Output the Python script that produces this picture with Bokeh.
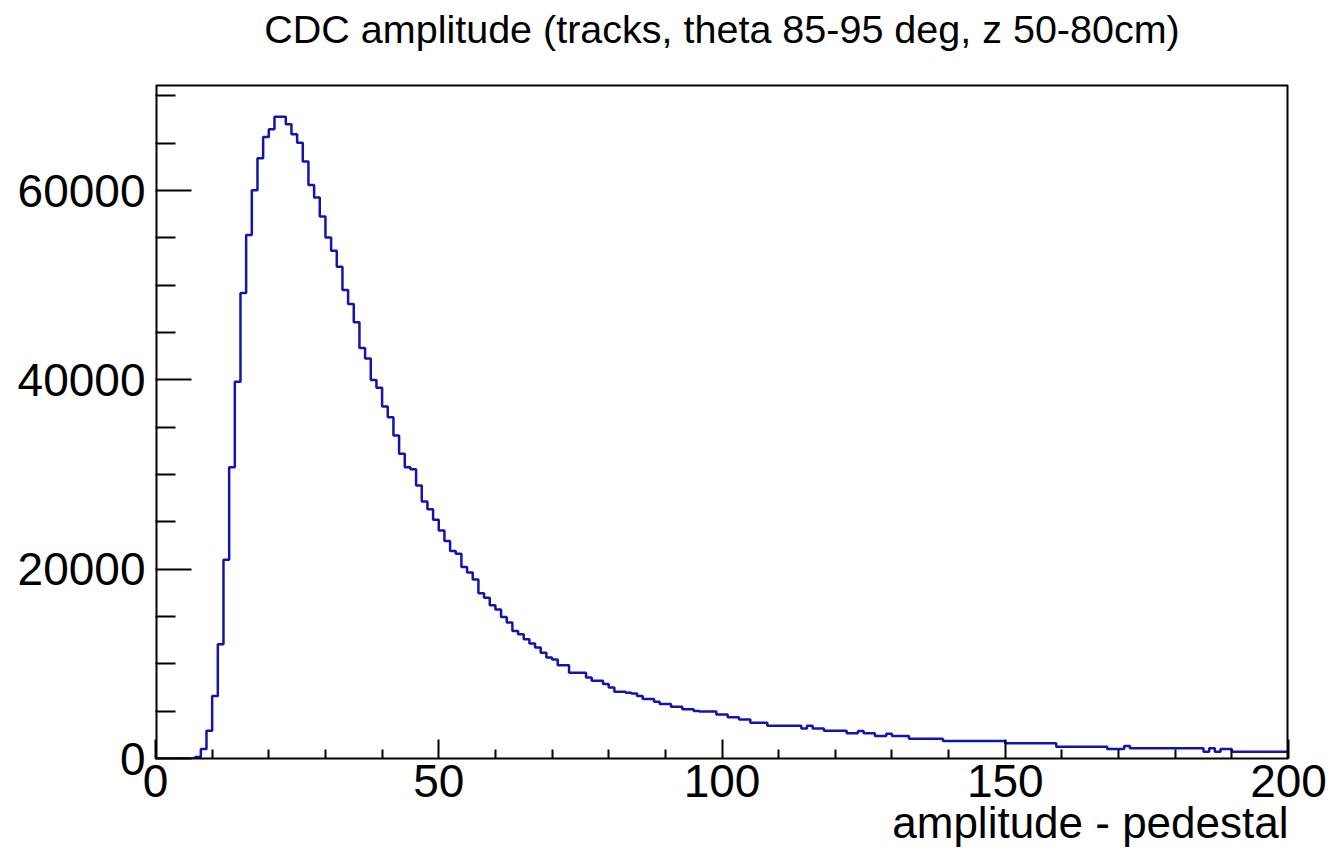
from bokeh.plotting import figure
from bokeh.models import FixedTicker, Range1d, Title
from bokeh.core.properties import value
from bokeh.embed import file_html
from bokeh.resources import INLINE

title_text = "CDC amplitude (tracks, theta 85-95 deg, z 50-80cm)"
x_title = "amplitude - pedestal"

x_major = [0, 50, 100, 150, 200]
x_minor = [10, 20, 30, 40, 60, 70, 80, 90, 110, 120, 130, 140, 160, 170, 180, 190]
y_major = [0, 20000, 40000, 60000]
y_minor = [5000, 10000, 15000, 25000, 30000, 35000, 45000, 50000, 55000, 65000, 70000]

# bin contents, 1-unit bins from 0 to 200
counts_0_39 = [0, 0, 0, 0, 0, 0, 0, 150, 1000, 2930,
               6590, 12080, 21010, 30780, 39800, 49180, 55300, 60040, 63420, 65660,
               66480, 67810, 67810, 67000, 65950, 65060, 63060, 60600, 59260, 57260,
               55040, 53640, 51960, 49490, 48020, 46080, 43380, 42250, 40000, 39160]
counts_40_79 = [37180, 36050, 34120, 32190, 30780, 30570, 28850, 27160, 26320, 25230,
                24100, 22970, 21920, 21640, 20230, 19650, 18900, 17460, 16980, 16190,
                15740, 14960, 14360, 13480, 13130, 12610, 12150, 11730, 11160, 10670,
                10460, 9860, 9860, 9050, 9050, 9050, 8560, 8210, 8210, 7860]
counts_80_119 = [7510, 7050, 7050, 6940, 6880, 6590, 6280, 6280, 5990, 5750,
                 5750, 5460, 5460, 5190, 5190, 5010, 4960, 4960, 4960, 4640,
                 4640, 4360, 4360, 4110, 4110, 3780, 3780, 3780, 3470, 3470,
                 3470, 3470, 3470, 3470, 3180, 3470, 3180, 3180, 2930, 2930]
counts_120_159 = [2930, 2930, 2660, 2660, 2900, 2660, 2660, 2370, 2370, 2620,
                  2370, 2370, 2370, 2090, 2090, 2090, 2090, 2090, 2090, 1850,
                  1850, 1850, 1850, 1850, 1850, 1850, 1850, 1850, 1850, 1850,
                  1600, 1600, 1600, 1600, 1600, 1600, 1600, 1600, 1600, 1250]
counts_160_199 = [1250, 1250, 1250, 1250, 1250, 1250, 1250, 1250, 1000, 1000,
                  1000, 1320, 1080, 1080, 1080, 1080, 1080, 1080, 1080, 1080,
                  1080, 1080, 1080, 1080, 1080, 720, 1080, 720, 1000, 1000,
                  720, 720, 720, 720, 720, 720, 720, 720, 720, 720]

counts = counts_0_39 + counts_40_79 + counts_80_119 + counts_120_159 + counts_160_199
edges = list(range(0, len(counts) + 1))
x_min, x_max = 0, 200
y_max = 71100          # top of the histogram frame

FONT = "Liberation Sans"
LINE = "#1414ad"

# layout in pixels: histogram box spans y 85..758, canvas 851 tall
box_top_px, box_bottom_px = 85, 758
y_top = y_max * box_bottom_px / (box_bottom_px - box_top_px)   # range reaches canvas top
title_y = y_top * (box_bottom_px - 28) / box_bottom_px

p = figure(width=1330, height=851, x_range=Range1d(x_min, x_max), y_range=Range1d(0, y_top),
           output_backend="svg", toolbar_location=None,
           min_border_left=155, min_border_right=42, min_border_top=0, min_border_bottom=93)
p.grid.visible = False
p.background_fill_color = "white"
p.border_fill_color = "white"
p.outline_line_color = None

p.step(x=edges, y=counts + [counts[-1]], mode="after", line_color=LINE, line_width=2.5)

# histogram box (left/right edges sit on the clipped frame edge, so draw them wider)
p.segment(x0=[x_min, x_max], y0=[0, 0], x1=[x_min, x_max], y1=[y_max, y_max],
          line_color="black", line_width=4)
p.segment(x0=[x_min], y0=[y_max], x1=[x_max], y1=[y_max], line_color="black", line_width=2)

p.text(x=[(x_min + x_max) / 2], y=[title_y], text=[title_text], text_align="center",
       text_baseline="middle", text_font=value(FONT), text_font_size="39.5px",
       text_color="black")

for ax in (p.xaxis[0], p.yaxis[0]):
    ax.axis_line_color = "black"
    ax.axis_line_width = 2
    ax.major_tick_line_color = "black"
    ax.minor_tick_line_color = "black"
    ax.major_tick_line_width = 2
    ax.minor_tick_line_width = 2
    ax.major_tick_out = 0
    ax.minor_tick_out = 0
    ax.major_label_text_font = FONT
    ax.major_label_text_font_size = "46px"
    ax.major_label_text_color = "black"
    ax.major_label_text_font_style = "normal"
p.yaxis.axis_line_color = None

p.xaxis.ticker = FixedTicker(ticks=x_major, minor_ticks=x_minor)
p.yaxis.ticker = FixedTicker(ticks=y_major, minor_ticks=y_minor)
p.xaxis.major_tick_in = 19
p.xaxis.minor_tick_in = 9
p.yaxis.major_tick_in = 36
p.yaxis.minor_tick_in = 20
p.xaxis.major_label_standoff = 6
p.yaxis.major_label_standoff = 10

xt = Title(text=x_title, align="right", text_font=FONT, text_font_size="44px",
           text_font_style="normal", text_color="black", standoff=-8,
           text_line_height=1.0)
p.add_layout(xt, "below")

open("out.html", "w").write(file_html(p, INLINE))
